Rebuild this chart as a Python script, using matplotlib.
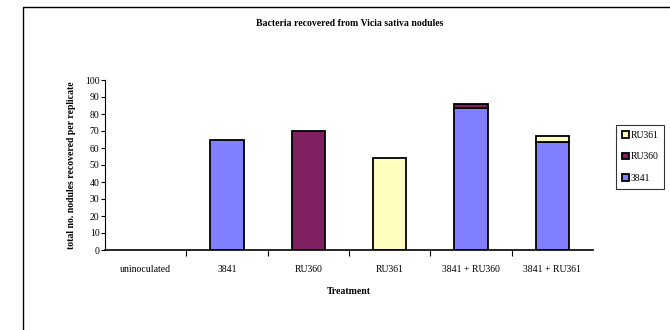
import numpy as np
import matplotlib
matplotlib.use('Agg')
import matplotlib.pyplot as plt
from matplotlib.patches import Rectangle, Patch

# Data
TREATMENTS = ['uninoculated', '3841', 'RU360', 'RU361', '3841 + RU360', '3841 + RU361']
STRAIN_3841 = [0, 65, 0, 0, 83.5, 63.5]
STRAIN_RU360 = [0, 0, 70, 0, 2.5, 0]
STRAIN_RU361 = [0, 0, 0, 54, 0, 3.5]

COLORS = {'3841': '#8080ff', 'RU360': '#802060', 'RU361': '#ffffc0'}

plt.rcParams['font.family'] = ['Liberation Serif', 'DejaVu Serif']

fig = plt.figure(figsize=(6.7, 3.3), dpi=100)
ax = fig.add_axes([105 / 670, 80 / 330, 488 / 670, 170 / 330])

x = np.arange(len(TREATMENTS))
w = 0.41
b1 = np.array(STRAIN_3841)
b2 = b1 + np.array(STRAIN_RU360)
kw = dict(width=w, edgecolor='black', linewidth=1.3)
h1 = ax.bar(x, STRAIN_3841, color=COLORS['3841'], **kw)
h2 = ax.bar(x, STRAIN_RU360, bottom=b1, color=COLORS['RU360'], **kw)
h3 = ax.bar(x, STRAIN_RU361, bottom=b2, color=COLORS['RU361'], **kw)
# hide the zero-height bars so they don't draw lines on the axis
for cont, vals in ((h1, STRAIN_3841), (h2, STRAIN_RU360), (h3, STRAIN_RU361)):
    for p, v in zip(cont.patches, vals):
        if v == 0:
            p.set_visible(False)

ax.set_xlim(-0.5, len(TREATMENTS) - 0.5)
ax.set_ylim(0, 100)
ax.set_yticks(range(0, 101, 10))
ax.set_xticks(x)
ax.set_xticklabels(TREATMENTS, fontsize=7)
ax.set_xticks(np.arange(0.5, len(TREATMENTS) - 0.5, 1), minor=True)
ax.tick_params(axis='x', which='major', length=0, pad=11)
ax.tick_params(axis='x', which='minor', length=4, width=0.8, direction='out')
ax.tick_params(axis='y', length=3, width=0.8, labelsize=7, pad=1)
for s in ('top', 'right'):
    ax.spines[s].set_visible(False)
ax.spines['left'].set_linewidth(0.8)
ax.spines['bottom'].set_linewidth(1.2)

ax.set_xlabel('Treatment', fontsize=7, fontweight='bold', labelpad=9)
ax.set_ylabel('total no. nodules recovered per replicate', fontsize=7,
              fontweight='bold', labelpad=6)
fig.text(350 / 670, 1 - 24 / 330, 'Bacteria recovered from Vicia sativa nodules',
         ha='center', va='center', fontsize=7, fontweight='bold')

handles = [Patch(facecolor=COLORS[k], edgecolor='black', linewidth=1.3)
           for k in ('RU361', 'RU360', '3841')]
leg = ax.legend(handles=handles, labels=['RU361', 'RU360', '3841'],
                loc='upper left', bbox_to_anchor=(616 / 670, 1 - 125 / 330),
                bbox_transform=fig.transFigure, fontsize=7, frameon=True,
                fancybox=False, edgecolor='black', handlelength=0.7,
                handleheight=0.7, handletextpad=0.2, labelspacing=1.3,
                borderpad=0.6, borderaxespad=0)
leg.get_frame().set_linewidth(0.8)

# outer chart-area border (left and top visible in the reference)
fig.add_artist(Rectangle((23 / 670, -0.1), 1.2, 1 - 7 / 330 + 0.1,
                         transform=fig.transFigure, fill=False,
                         edgecolor='black', linewidth=1.0))

fig.savefig('out.png', dpi=100)
